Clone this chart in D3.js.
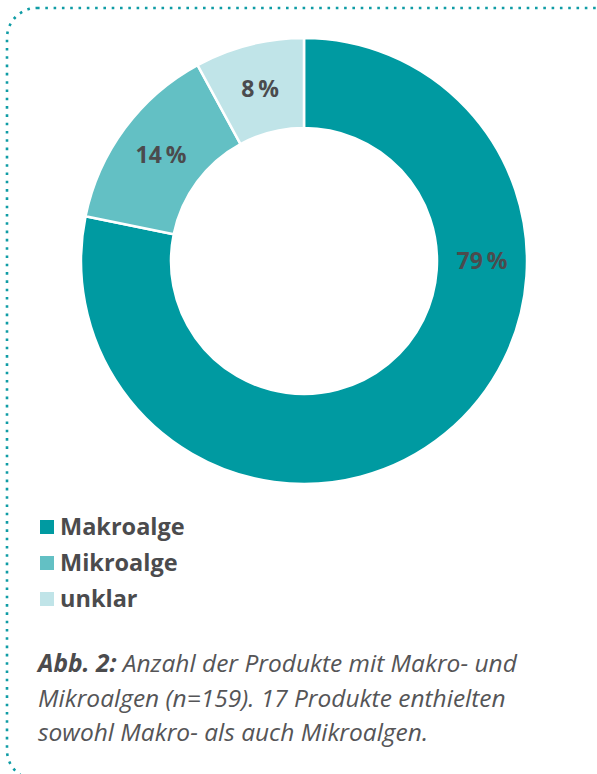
<!DOCTYPE html>
<html>
<head>
<meta charset="utf-8">
<script src="https://cdn.jsdelivr.net/npm/d3@7"></script>
<style>
  body { margin: 0; background: #fff; }
  svg { display: block; }
  text { font-family: "Open Sans", "Noto Sans", sans-serif; }
</style>
</head>
<body>
<svg id="chart" width="597" height="774"></svg>
<script>
// data
const categories = ['Makroalge', 'Mikroalge', 'unklar'];
const shares = [79, 14, 8];
const colors = ['#009aa1', '#63c0c4', '#c0e4e8'];
const caption = [
  [['Abb. 2:', true], [' Anzahl der Produkte mit Makro- und', false]],
  [['Mikroalgen (n=159). 17 Produkte enthielten', false]],
  [['sowohl Makro- als auch Mikroalgen.', false]]
];

const svg = d3.select('#chart');
const textColor = '#4b4b4d';

// dotted frame
svg.append('rect')
    .attr('x', 7).attr('y', 8)
    .attr('width', 620).attr('height', 772)
    .attr('rx', 30).attr('ry', 30)
    .attr('fill', 'none')
    .attr('stroke', '#0f9ca5')
    .attr('stroke-width', 2.6)
    .attr('stroke-dasharray', '2.6 5.7');

// donut
const cx = 304, cy = 261;
const outerR = 223, innerR = 133;

const pie = d3.pie().sort(null).value(d => d.value);
const arcs = pie(categories.map((c, i) => ({ name: c, value: shares[i] })));
const arc = d3.arc().innerRadius(innerR).outerRadius(outerR);
const labelArc = d3.arc().innerRadius(178).outerRadius(178);

const g = svg.append('g').attr('transform', `translate(${cx},${cy})`);

g.selectAll('path')
    .data(arcs)
    .join('path')
    .attr('d', arc)
    .attr('fill', (d, i) => colors[i])
    .attr('stroke', '#fff')
    .attr('stroke-width', 2.5);

// the big slice gets its label on the right side, the others at the centroid
g.selectAll('text.pct')
    .data(arcs)
    .join('text')
    .attr('class', 'pct')
    .attr('transform', (d, i) => {
      let p = i === 0 ? labelArc.centroid({ startAngle: Math.PI / 2, endAngle: Math.PI / 2 })
                      : labelArc.centroid(d);
      return `translate(${p[0]},${p[1]})`;
    })
    .attr('text-anchor', 'middle')
    .attr('dy', '0.36em')
    .attr('fill', textColor)
    .style('font-size', '23px')
    .style('font-weight', 700)
    .text(d => `${d.data.value}\u2009%`);

// legend
const legendY = d3.scaleBand().domain(categories).range([509, 617]);

const legend = svg.append('g').selectAll('g')
    .data(categories)
    .join('g')
    .attr('transform', d => `translate(40,${legendY(d) + legendY.bandwidth() / 2})`);

legend.append('rect')
    .attr('x', 0).attr('y', -7)
    .attr('width', 14).attr('height', 14)
    .attr('fill', (d, i) => colors[i]);

legend.append('text')
    .attr('x', 20)
    .attr('dy', '0.36em')
    .attr('fill', textColor)
    .style('font-size', '23.5px')
    .style('font-weight', 700)
    .text(d => d);

// caption
const cap = svg.append('text')
    .attr('x', 38)
    .attr('fill', '#555557')
    .style('font-size', '24.5px')
    .style('font-style', 'italic');

caption.forEach((line, li) => {
  line.forEach(([t, bold], k) => {
    const ts = cap.append('tspan').text(t);
    if (k === 0) ts.attr('x', 38).attr('y', 672 + li * 34.5);
    if (bold) ts.style('font-weight', 700).attr('fill', textColor);
  });
});
</script>
</body>
</html>
